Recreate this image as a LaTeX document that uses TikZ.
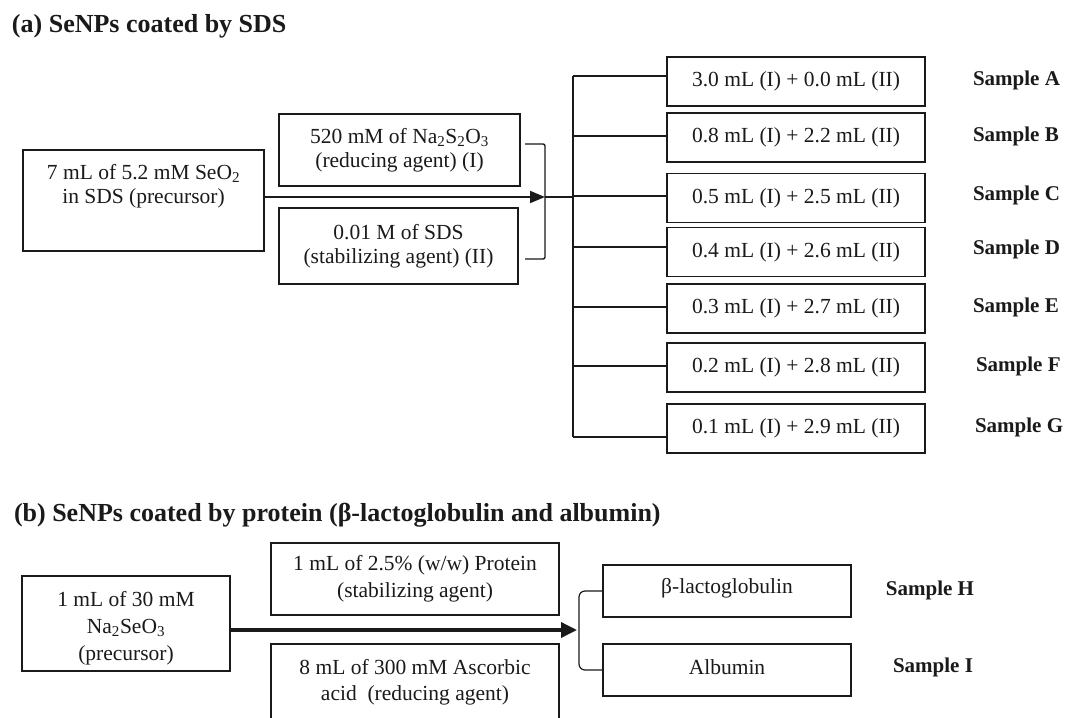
\documentclass[tikz,border=0pt]{standalone}
\usepackage{fontspec}
\setmainfont{Liberation Serif}
\usetikzlibrary{arrows.meta}
\definecolor{ink}{HTML}{1A1A1A}
\begin{document}
\begin{tikzpicture}[x=1pt,y=-1pt,
  every node/.style={inner sep=0pt, outer sep=0pt, text=ink},
  txt/.style={font=\fontsize{21.5}{24.5}\selectfont, align=center},
  heavybox/.style={draw=ink, line width=2pt, rectangle},
  samplebox/.style={draw=ink, line width=1.5pt, rectangle, minimum width=258pt, minimum height=49pt, txt},
  lightbox/.style={draw=ink, line width=1.3pt, rectangle, txt},
  lbl/.style={font=\fontsize{21}{25}\selectfont\bfseries},
  ttl/.style={font=\fontsize{26}{30}\selectfont\bfseries, anchor=base west},
  wire/.style={draw=ink, line width=1.4pt},
]
\useasboundingbox[fill=white] (0,0) rectangle (1070,717);

% ---------- (a) ----------
\node[ttl] (ta) at (12,33) {(a) SeNPs coated by SDS};

\node[heavybox, minimum width=241pt, minimum height=101pt] (preA) at (143.5,200.5) {};
\node[txt] (preAt) at (143.5,186) {7 mL of 5.2 mM SeO\textsubscript{2}\\in SDS (precursor)};

\node[heavybox, txt, minimum width=241pt, minimum height=72pt] (redA) at (399.5,150)
  {520 mM of Na\textsubscript{2}S\textsubscript{2}O\textsubscript{3}\\(reducing agent) (I)};
\node[heavybox, txt, minimum width=239pt, minimum height=76pt] (stabA) at (398.5,246)
  {0.01 M of SDS\\(stabilizing agent) (II)};

\coordinate (brT) at (525,144);
\coordinate (brB) at (525,259);
\coordinate (brM) at (545,197);
\coordinate (trk) at (573,197);
\draw[wire, rounded corners=2pt] (brT) -- (brT -| brM) -- (brB -| brM) -- (brB);
\draw[wire, line width=1.8pt, -{Triangle[length=15pt,width=12pt]}] (preA.east |- brM) -- (brM);
\draw[wire] (brM) -- (trk);

\coordinate (tTop) at (573,76);
\coordinate (tBot) at (573,437);
\draw[wire] (tTop) -- (tBot);

\foreach \n/\cy/\by/\ly/\lx/\t in {
  A/81.5/76/80/973/{3.0 mL (I) + 0.0 mL (II)},
  B/137.5/136/136/973/{0.8 mL (I) + 2.2 mL (II)},
  C/198/196/195/973/{0.5 mL (I) + 2.5 mL (II)},
  D/252/247/249/973/{0.4 mL (I) + 2.6 mL (II)},
  E/308.5/307/307/973/{0.3 mL (I) + 2.7 mL (II)},
  F/367.5/366/366/976/{0.2 mL (I) + 2.8 mL (II)},
  G/428.5/437/427/975/{0.1 mL (I) + 2.9 mL (II)}}{
  \node[samplebox] (s\n) at (796,\cy) {\t};
  \node[lbl, anchor=west] (l\n) at (\lx,\ly) {Sample \n};
  \coordinate (t\n) at (573,\by);
  \draw[wire] (t\n) -- (t\n -| s\n.west);
}

% ---------- (b) ----------
\node[ttl] (tb) at (14,521) {(b) SeNPs coated by protein (β-lactoglobulin and albumin)};

\node[lightbox, minimum width=208pt, minimum height=95pt] (preB) at (126,623.5) {};
\node[txt, font=\fontsize{21.5}{27}\selectfont] (preBt) at (126,628)
  {1 mL of 30 mM\\Na\textsubscript{2}SeO\textsubscript{3}\\(precursor)};
\node[lightbox, font=\fontsize{21.5}{27}\selectfont, minimum width=288pt, minimum height=72pt] (protB) at (415,579)
  {1 mL of 2.5\% (w/w) Protein\\(stabilizing agent)};
\node[lightbox, minimum width=288pt, minimum height=78pt] (ascB) at (415,683) {};
\node[txt, font=\fontsize{21.5}{26}\selectfont] (ascBt) at (415,682)
  {8 mL of 300 mM Ascorbic\\acid\ \ (reducing agent)};

\coordinate (arrB) at (577,630);
\draw[wire, line width=3.5pt, -{Triangle[length=16pt,width=15pt]}] (preB.east |- arrB) -- (arrB);

\node[lightbox, minimum width=248pt, minimum height=52pt] (lac) at (727,591) {};
\node[txt] (lact) at (727,588) {β-lactoglobulin};
\node[lightbox, minimum width=248pt, minimum height=52pt] (alb) at (727,670) {};
\node[txt] (albt) at (727,667) {Albumin};
\coordinate (bkx) at (579,630);
\draw[wire, line width=1.2pt, rounded corners=6pt] (lac.west) -- (lac.west -| bkx) -- (alb.west -| bkx) -- (alb.west);

\node[lbl] (lH) at (930,590) {Sample H};
\node[lbl] (lI) at (933,667) {Sample I};
\end{tikzpicture}
\end{document}
